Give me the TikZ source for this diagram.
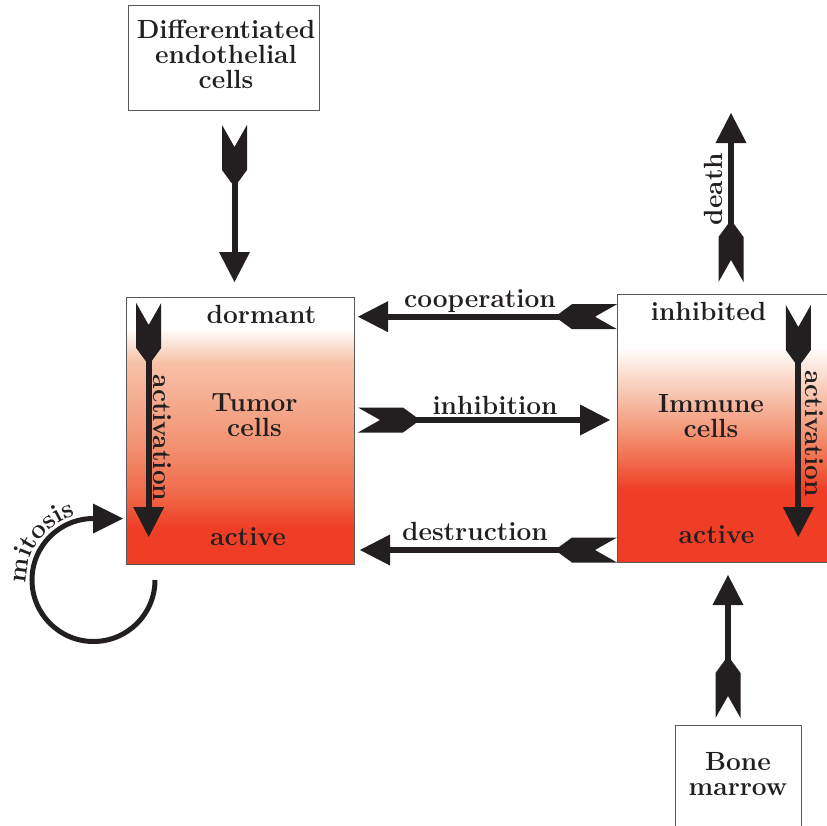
\documentclass[tikz,border=0pt]{standalone}
\usepackage{fontspec}
\usetikzlibrary{arrows.meta,decorations.text}
\definecolor{adark}{RGB}{35,31,32}
\definecolor{cred}{RGB}{239,62,37}
\definecolor{tA}{RGB}{240,104,72}
\definecolor{tB}{RGB}{242,146,114}
\definecolor{tC}{RGB}{248,194,168}
\definecolor{iA}{RGB}{241,112,80}
\definecolor{iB}{RGB}{244,160,130}
\definecolor{iC}{RGB}{249,208,190}
\pgfdeclareverticalshading{tumorshade}{100bp}{color(0bp)=(cred); color(31.7bp)=(cred); color(37.9bp)=(tA); color(47.3bp)=(tB); color(62.8bp)=(tC); color(69.2bp)=(white); color(100bp)=(white)}
\pgfdeclareverticalshading{immuneshade}{100bp}{color(0bp)=(cred); color(38.4bp)=(cred); color(44.5bp)=(iA); color(50.9bp)=(iB); color(58bp)=(iC); color(65.1bp)=(white); color(100bp)=(white)}
\pgfdeclarearrow{
  name = Fletch,
  setup code = {
    \pgfarrowssettipend{0pt}
    \pgfarrowssetlineend{-25pt}
    \pgfarrowssetbackend{-58pt}
    \pgfarrowshullpoint{0pt}{12.5pt}
    \pgfarrowshullpoint{0pt}{-12.5pt}
    \pgfarrowshullpoint{-58pt}{0pt}
  },
  drawing code = {
    \pgfsetfillcolor{adark}
    \pgfpathmoveto{\pgfqpoint{0pt}{12.5pt}}
    \pgfpathlineto{\pgfqpoint{-22pt}{0pt}}
    \pgfpathlineto{\pgfqpoint{0pt}{-12.5pt}}
    \pgfpathlineto{\pgfqpoint{-45pt}{-12.5pt}}
    \pgfpathlineto{\pgfqpoint{-58pt}{-3pt}}
    \pgfpathlineto{\pgfqpoint{-58pt}{3pt}}
    \pgfpathlineto{\pgfqpoint{-45pt}{12.5pt}}
    \pgfpathclose
    \pgfusepathqfill
  }
}
\newcommand\dfont{\fontsize{26.3}{25}\selectfont\bfseries}
\begin{document}
\begin{tikzpicture}[x=1pt,y=1pt,
  cellbox/.style={draw=black!65, line width=0.9pt, inner sep=0pt, outer sep=0pt},
  lbl/.style={font=\dfont, text=adark, inner sep=0pt, outer sep=0pt},
  conn/.style={draw=adark, line width=6pt, {Fletch}-{Triangle[length=30pt,width=31pt,line width=0pt]}},
  loopline/.style={draw=adark, line width=5pt, -{Triangle[length=30pt,width=30pt,line width=0pt]}}]
\useasboundingbox (0,0) rectangle (827,-825);
\clip (0,0) rectangle (827,-825);
% boxes
\node[cellbox, fill=white, minimum width=191pt, minimum height=105pt] (diff) at (223.5,-57.5) {};
\node[cellbox, shade, shading=tumorshade, minimum width=228pt, minimum height=267pt] (tumor) at (240,-430.5) {};
\node[cellbox, shade, shading=immuneshade, minimum width=213pt, minimum height=268pt] (immune) at (723.5,-428) {};
\node[cellbox, fill=white, minimum width=126.7pt, minimum height=104.3pt] (bone) at (738.35,-777.85) {};
% texts
\node[lbl, align=center] (difftxt) at (226,-53.9) {Differentiated\\endothelial\\cells};
\node[lbl, align=center] (tumortxt) at (254.5,-415.5) {Tumor\\cells};
\node[lbl, align=center] (immunetxt) at (711,-416.5) {Immune\\cells};
\node[lbl, align=center] (bonetxt) at (738,-774.4) {Bone\\marrow};
\node[lbl, anchor=base] (dorm) at (261.5,-323) {dormant};
\node[lbl, anchor=base] (tact) at (248,-545) {active};
\node[lbl, anchor=base] (inhib) at (708.5,-320) {inhibited};
\node[lbl, anchor=base] (iact) at (716.5,-543) {active};
\node[lbl, anchor=base] (coop) at (480,-307) {cooperation};
\node[lbl, anchor=base] (inh) at (495,-414) {inhibition};
\node[lbl, anchor=base] (dest) at (475,-540) {destruction};
\node[lbl, anchor=base, rotate=-90] (tactv) at (153.5,-438) {activation};
\node[lbl, anchor=base, rotate=-90] (iactv) at (805,-433.5) {activation};
\node[lbl, anchor=base, rotate=90] (death) at (722,-189) {death};
% connector end points
\coordinate (d1) at (234.5,-125); \coordinate (d2) at (234.5,-282);
\coordinate (a1) at (148.7,-303); \coordinate (a2) at (148.7,-537);
\coordinate (b1) at (798.3,-305); \coordinate (b2) at (798.3,-537);
\coordinate (k1) at (731,-282);   \coordinate (k2) at (731,-113);
\coordinate (m1) at (728,-718);   \coordinate (m2) at (728,-575);
\coordinate (c1) at (617,-316.7); \coordinate (c2) at (358,-316.7);
\coordinate (h1) at (358,-420);   \coordinate (h2) at (610,-420);
\coordinate (x1) at (617,-550);   \coordinate (x2) at (360,-550);
\coordinate (lp0) at (155,-580);  \coordinate (lp1) at (123,-518.5);
\coordinate (lc) at (93.5,-580);
% connectors
\draw[conn] (d1) -- (d2);
\draw[conn] (a1) -- (a2);
\draw[conn] (b1) -- (b2);
\draw[conn] (k1) -- (k2);
\draw[conn] (m1) -- (m2);
\draw[conn] (c1) -- (c2);
\draw[conn] (h1) -- (h2);
\draw[conn] (x1) -- (x2);
\draw[loopline] (lp0) arc[start angle=0, end angle=-270, radius=61.5] -- (lp1);
\path[decorate, decoration={text along path, text={|\dfont\color{adark}|mitosis}, text align=center}]
  ([shift={(186:67)}]lc) arc[start angle=186, end angle=102, radius=67];
\end{tikzpicture}
\end{document}
